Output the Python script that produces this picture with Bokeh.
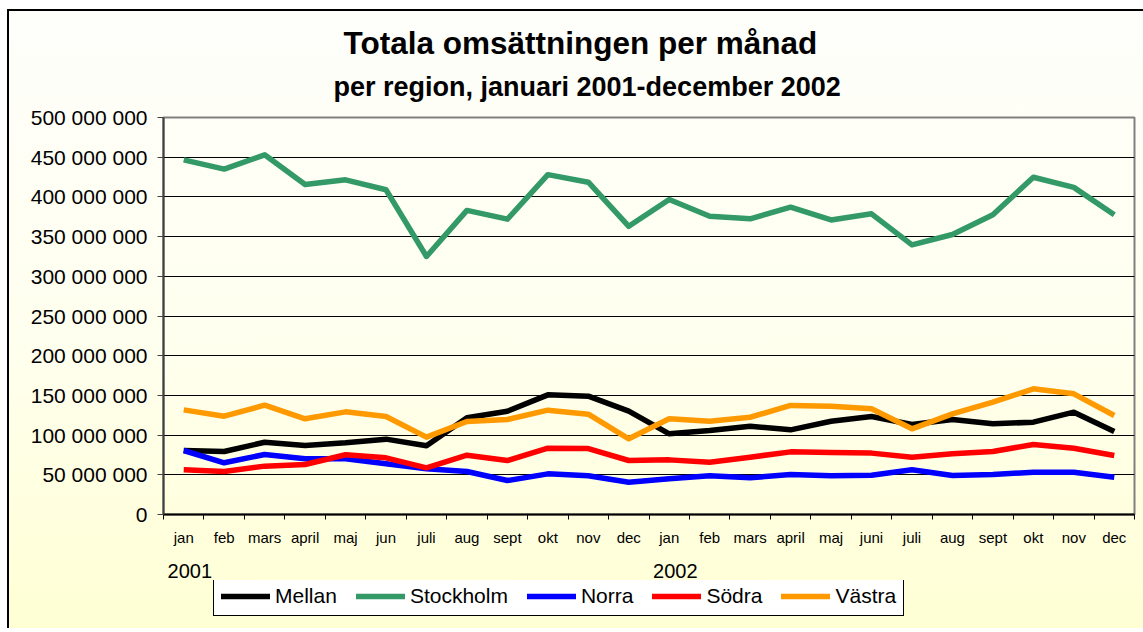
from bokeh.plotting import figure
from bokeh.layouts import column
from bokeh.models import (Range1d, FixedTicker, LinearAxis, Legend, LegendItem, Title, Grid)
from bokeh.embed import file_html
from bokeh.resources import INLINE

# ---------------- data ----------------
months = ["jan", "feb", "mars", "april", "maj", "jun", "juli", "aug", "sept", "okt", "nov", "dec",
          "jan", "feb", "mars", "april", "maj", "juni", "juli", "aug", "sept", "okt", "nov", "dec"]
years = ["2001", "2002"]
year_start_index = [0, 12]

mellan = [80.6, 79.3, 91.0, 86.9, 90.3, 94.9, 86.5, 121.8, 130.1, 150.7, 149.0, 130.1,
          101.6, 105.8, 111.2, 106.6, 117.5, 123.4, 113.4, 119.6, 114.2, 116.3, 128.9, 104.5]
stockholm = [446.7, 435.0, 453.0, 415.6, 421.5, 409.0, 325.0, 383.0, 372.0, 428.0, 418.5, 363.0,
             396.7, 375.7, 372.4, 387.0, 371.0, 378.7, 339.6, 352.6, 377.4, 424.8, 412.0, 377.4]
norra = [80.6, 65.1, 75.6, 70.1, 70.1, 63.8, 57.5, 54.2, 42.8, 51.2, 48.7, 40.7,
         44.9, 48.7, 46.2, 50.4, 48.7, 49.5, 56.3, 49.1, 50.4, 53.3, 53.3, 47.0]
sodra = [56.3, 54.2, 60.9, 63.0, 75.2, 71.4, 58.8, 74.7, 68.0, 83.5, 83.1, 68.0,
         68.8, 65.9, 72.2, 78.9, 78.1, 77.3, 72.2, 76.4, 79.3, 88.2, 83.5, 74.3]
vastra = [131.8, 123.8, 137.7, 120.5, 129.3, 123.4, 97.4, 117.1, 119.6, 131.4, 126.3, 95.3,
          120.5, 117.5, 122.5, 137.3, 136.4, 133.1, 107.9, 126.8, 141.4, 158.3, 152.0, 124.7]

series_names = ["Mellan", "Stockholm", "Norra", "Södra", "Västra"]
series_values = [mellan, stockholm, norra, sodra, vastra]
series_colors = ["#000000", "#339966", "#0000FF", "#FF0000", "#FF9900"]

y_ticks = [0, 50e6, 100e6, 150e6, 200e6, 250e6, 300e6, 350e6, 400e6, 450e6, 500e6]
y_tick_labels = ["0", "50 000 000", "100 000 000", "150 000 000", "200 000 000", "250 000 000",
                 "300 000 000", "350 000 000", "400 000 000", "450 000 000", "500 000 000"]

FONT = "Liberation Sans"
LINE_W = 5.5

# ---------------- main figure ----------------
x_pos = [i + 0.5 for i in range(len(months))]

p = figure(frame_width=971, frame_height=397, output_backend="svg", toolbar_location=None,
           x_range=Range1d(0, len(months)), y_range=Range1d(0, 500e6),
           min_border_left=154, min_border_right=9, min_border_top=106, min_border_bottom=70,
           x_axis_type=None, y_axis_type=None)
p.background_fill_alpha = 0
p.border_fill_alpha = 0
p.outline_line_color = "#808080"
p.outline_line_width = 2

# titles (subtitle first -> closest to plot)
p.add_layout(Title(text="per region, januari 2001-december 2002", align="left",
                   text_font=FONT, text_font_size="27px", text_font_style="bold",
                   text_color="#000000", standoff=32, offset=170), "above")
p.add_layout(Title(text="Totala omsättningen per månad", align="left",
                   text_font=FONT, text_font_size="31.5px", text_font_style="bold",
                   text_color="#000000", standoff=-15, offset=180), "above")

# y axis
yax = LinearAxis(ticker=FixedTicker(ticks=y_ticks, minor_ticks=[]))
yax.major_label_overrides = {t: lab for t, lab in zip(y_ticks, y_tick_labels)}
yax.major_label_text_font = FONT
yax.major_label_text_font_size = "21px"
yax.major_label_text_color = "#000000"
yax.axis_line_color = "#404040"
yax.axis_line_width = 2
yax.major_tick_line_color = "#404040"
yax.major_tick_out = 6
yax.major_tick_in = 0
yax.major_label_standoff = 10
p.add_layout(yax, "left")

# x axis (months)
xax = LinearAxis(ticker=FixedTicker(ticks=x_pos, minor_ticks=list(range(len(months) + 1))))
xax.major_label_overrides = {x: m for x, m in zip(x_pos, months)}
xax.major_label_text_font = FONT
xax.major_label_text_font_size = "15px"
xax.major_label_text_color = "#000000"
xax.axis_line_color = "#000000"
xax.axis_line_width = 2
xax.major_tick_line_alpha = 0
xax.major_tick_out = 5
xax.minor_tick_line_color = "#000000"
xax.minor_tick_out = 5
xax.minor_tick_in = 0
xax.major_label_standoff = 9
p.add_layout(xax, "below")

# year axis
year_pos = [i + 0.65 for i in year_start_index]
yrax = LinearAxis(ticker=FixedTicker(ticks=year_pos, minor_ticks=[]))
yrax.major_label_overrides = {x: y for x, y in zip(year_pos, years)}
yrax.major_label_text_font = FONT
yrax.major_label_text_font_size = "20px"
yrax.major_label_text_color = "#000000"
yrax.axis_line_alpha = 0
yrax.major_tick_line_alpha = 0
yrax.major_tick_out = 0
yrax.major_label_standoff = 15
p.add_layout(yrax, "below")

# horizontal grid
p.add_layout(Grid(dimension=1, ticker=yax.ticker, grid_line_color="#000000", grid_line_width=1))

# series lines
for name, vals, col in zip(series_names, series_values, series_colors):
    p.line(x_pos, [v * 1e6 for v in vals], line_color=col, line_width=LINE_W,
           line_join="round", line_cap="butt")

# ---------------- legend strip (same series, drawn outside its own view) ----------------
pl = figure(width=1134, height=48, output_backend="svg", toolbar_location=None,
            x_range=Range1d(0, len(months)), y_range=Range1d(-2e9, -1e9),
            min_border_left=0, min_border_right=0, min_border_top=0, min_border_bottom=0,
            x_axis_type=None, y_axis_type=None, styles={"margin-top": "-4px"})
pl.background_fill_alpha = 0
pl.border_fill_alpha = 0
pl.outline_line_color = None

items = []
for name, vals, col in zip(series_names, series_values, series_colors):
    r = pl.line(x_pos, [v * 1e6 for v in vals], line_color=col, line_width=LINE_W,
                line_cap="round")
    items.append(LegendItem(label=name, renderers=[r]))

legend = Legend(items=items, orientation="horizontal", location=(50, 12))
legend.label_text_font = FONT
legend.label_text_font_size = "21px"
legend.label_text_color = "#000000"
legend.label_standoff = 5
legend.glyph_width = 49
legend.glyph_height = 20
legend.label_height = 20
legend.spacing = 19
legend.padding = 7
legend.margin = 0
legend.border_line_color = "#000000"
legend.border_line_width = 1
legend.border_line_alpha = 1
legend.background_fill_color = "#FFFFFF"
legend.background_fill_alpha = 1
pl.add_layout(legend, "center")

layout = column(p, pl, spacing=0,
                styles={"margin-left": "7px", "margin-top": "9px",
                        "border-left": "2px solid black", "border-top": "2px solid black",
                        "background": "linear-gradient(to bottom, #FEFEFB 0%, #FFFFEE 55%, #FFFFD4 100%)"})

open("out.html", "w").write(file_html(layout, INLINE))
